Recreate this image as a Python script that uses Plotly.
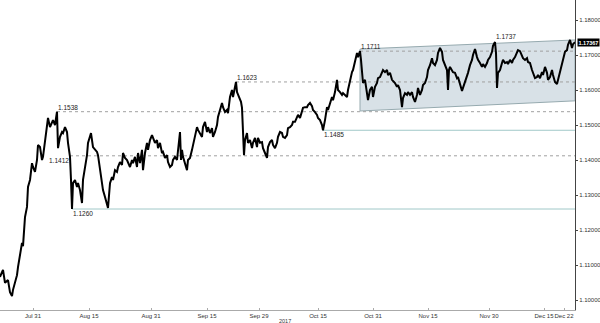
import plotly.graph_objects as go

# ---- data (x = trading-bar position, y = EUR/USD price) ----
bar_index = [0,3,5,8,10,12,13,15,17,18,20,22,23,25,27,28,30,32,33,35,37,38,40,42,43,45,47,48,50,52,53,55,57,58,59,60,62,63,65,67,68,70,71,72,73,75,77,78,80,82,83,85,87,88,90,91,93,95,97,98,
             100,102,103,105,107,108,110,112,113,115,117,118,120,122,123,125,127,128,130,132,133,135,137,138,140,142,143,145,147,148,150,152,153,155,157,158,160,162,163,165,167,168,170,172,173,175,177,178,180,181,182,183,185,187,188,190,192,193,195,197,198,
             200,202,203,205,207,208,210,212,213,215,217,218,220,222,223,225,227,228,230,232,233,235,236,237,239,241,242,243,244,245,247,248,250,252,253,255,257,258,260,262,263,265,267,268,270,272,273,275,277,278,280,282,283,285,287,288,290,292,293,295,297,298,
             300,302,303,305,307,308,310,312,313,315,317,318,320,322,323,325,327,328,330,332,333,335,337,338,340,342,343,345,347,348,350,352,353,355,357,358,360,361,362,363,365,367,368,370,372,373,375,377,378,380,382,383,385,387,388,390,392,395,397,398,
             400,402,403,405,407,408,410,412,413,415,417,418,420,422,423,425,427,428,430,432,433,435,437,438,440,442,443,445,447,448,449,450,452,453,455,457,458,460,462,463,465,467,468,470,472,473,475,477,478,480,482,483,485,487,488,490,492,493,495,496,497,498,
             500,502,503,505,507,508,510,512,513,515,517,518,520,522,523,525,527,528,530,532,533,535,537,538,540,542,543,545,547,548,550,552,553,555,557,558,560,562,563,565,567,568,570,571,572,573,575]
close_price = [1.1066,1.1086,1.1049,1.1057,1.1022,1.1011,1.1029,1.1049,1.1071,1.1094,1.1123,1.1163,1.1154,1.1237,1.1266,1.1323,1.1343,1.1391,1.1380,1.1366,1.1400,1.1443,1.1437,1.1400,1.1409,1.1457,1.1500,1.1520,1.1494,1.1506,1.1514,1.1500,1.1538,1.1434,1.1457,1.1466,1.1480,1.1477,1.1494,1.1480,1.1449,1.1409,1.1343,1.1260,1.1334,1.1343,1.1323,1.1334,1.1314,1.1277,1.1343,1.1380,1.1414,1.1449,1.1471,1.1477,1.1437,1.1429,1.1423,1.1414,
               1.1371,1.1334,1.1314,1.1294,1.1277,1.1263,1.1334,1.1351,1.1343,1.1371,1.1366,1.1380,1.1394,1.1386,1.1420,1.1406,1.1400,1.1394,1.1380,1.1400,1.1391,1.1409,1.1380,1.1420,1.1391,1.1429,1.1371,1.1420,1.1449,1.1429,1.1457,1.1471,1.1463,1.1449,1.1457,1.1434,1.1449,1.1420,1.1423,1.1406,1.1414,1.1394,1.1380,1.1386,1.1400,1.1409,1.1400,1.1429,1.1480,1.1400,1.1429,1.1409,1.1391,1.1371,1.1400,1.1406,1.1429,1.1443,1.1466,1.1494,1.1486,
               1.1477,1.1466,1.1494,1.1509,1.1480,1.1494,1.1477,1.1491,1.1466,1.1480,1.1500,1.1523,1.1543,1.1563,1.1551,1.1537,1.1543,1.1534,1.1580,1.1600,1.1580,1.1614,1.1623,1.1594,1.1580,1.1566,1.1549,1.1457,1.1414,1.1457,1.1477,1.1449,1.1457,1.1434,1.1449,1.1463,1.1437,1.1463,1.1449,1.1451,1.1434,1.1420,1.1406,1.1437,1.1451,1.1457,1.1443,1.1434,1.1449,1.1466,1.1480,1.1477,1.1466,1.1463,1.1471,1.1491,1.1494,1.1500,1.1509,1.1509,1.1520,1.1529,
               1.1520,1.1543,1.1549,1.1551,1.1551,1.1557,1.1563,1.1554,1.1543,1.1537,1.1529,1.1520,1.1514,1.1500,1.1485,1.1514,1.1551,1.1543,1.1563,1.1580,1.1571,1.1594,1.1629,1.1600,1.1594,1.1586,1.1591,1.1586,1.1580,1.1600,1.1629,1.1651,1.1657,1.1686,1.1706,1.1694,1.1711,1.1686,1.1637,1.1620,1.1629,1.1580,1.1571,1.1600,1.1609,1.1580,1.1609,1.1620,1.1634,1.1637,1.1651,1.1657,1.1651,1.1657,1.1643,1.1649,1.1629,1.1620,1.1609,1.1614,
               1.1600,1.1551,1.1577,1.1591,1.1586,1.1594,1.1586,1.1594,1.1580,1.1566,1.1586,1.1606,1.1586,1.1600,1.1614,1.1620,1.1637,1.1657,1.1671,1.1691,1.1677,1.1671,1.1686,1.1706,1.1720,1.1709,1.1686,1.1671,1.1657,1.1600,1.1657,1.1666,1.1657,1.1651,1.1649,1.1634,1.1637,1.1614,1.1597,1.1606,1.1623,1.1637,1.1649,1.1671,1.1686,1.1700,1.1717,1.1694,1.1686,1.1677,1.1666,1.1674,1.1666,1.1677,1.1686,1.1694,1.1709,1.1726,1.1737,1.1706,1.1606,1.1649,
               1.1657,1.1677,1.1686,1.1677,1.1680,1.1674,1.1686,1.1677,1.1686,1.1694,1.1706,1.1714,1.1711,1.1700,1.1691,1.1686,1.1691,1.1680,1.1677,1.1657,1.1649,1.1634,1.1637,1.1643,1.1634,1.1651,1.1643,1.1666,1.1649,1.1629,1.1637,1.1657,1.1643,1.1623,1.1617,1.1629,1.1657,1.1677,1.1694,1.1709,1.1714,1.1729,1.1743,1.1734,1.1720,1.1731,1.17367]

# date tick labels (positions in bar units)
tick_labels = ["Jul 31", "Aug 15", "Aug 31", "Sep 15", "Sep 29", "Oct 15", "Oct 31", "Nov 15", "Nov 30", "Dec 15", "Dec 22"]
tick_bars = [33, 89, 151, 207, 259, 318, 373, 428, 489, 544, 564]

price_ticks = [1.10, 1.11, 1.12, 1.13, 1.14, 1.15, 1.16, 1.17, 1.18]

# key levels
level_labels = ["1.1538", "1.1412", "1.1260", "1.1623", "1.1485", "1.1711", "1.1737"]
level_values = [1.1538, 1.1412, 1.1260, 1.1623, 1.1485, 1.1711, 1.1737]
level_start = [57, 70, 72, 236, 323, 360, 495]
level_kind = ["dash", "dash", "solid", "dash", "solid", "dash", "none"]

# channel (bar, price) corners
channel_bars = [360, 575, 575, 360]
channel_prices = [1.1717, 1.1743, 1.1569, 1.1540]

last_price = 1.17367
X_END = 575

fig = go.Figure()

# channel shading
fig.add_trace(go.Scatter(
    x=channel_bars + [channel_bars[0]], y=channel_prices + [channel_prices[0]],
    mode="lines", fill="toself", fillcolor="rgb(216,225,231)",
    line=dict(color="rgb(150,170,175)", width=1), hoverinfo="skip", showlegend=False))

# level lines
for lab, val, st, kind in zip(level_labels, level_values, level_start, level_kind):
    if kind == "none":
        continue
    if kind == "dash":
        fig.add_trace(go.Scatter(x=[st, X_END], y=[val, val], mode="lines",
                                 line=dict(color="rgb(160,160,160)", width=1, dash="3px,3px"),
                                 hoverinfo="skip", showlegend=False))
    else:
        fig.add_trace(go.Scatter(x=[st, X_END], y=[val, val], mode="lines",
                                 line=dict(color="rgb(160,200,200)", width=1),
                                 hoverinfo="skip", showlegend=False))

# price line
fig.add_trace(go.Scatter(x=bar_index, y=close_price, mode="lines",
                         line=dict(color="black", width=2), showlegend=False))

ann_font = dict(family="Liberation Sans", size=6.5, color="#222")
placements = {
    "1.1538": ("left", "bottom", 0),
    "1.1412": ("right", "top", 0),
    "1.1260": ("left", "top", 0),
    "1.1623": ("left", "bottom", 0),
    "1.1485": ("left", "top", 0),
    "1.1711": ("left", "bottom", 0),
    "1.1737": ("left", "bottom", 1),
}
for lab, val, st in zip(level_labels, level_values, level_start):
    xa, ya, ys = placements[lab]
    fig.add_annotation(x=st, y=val, text=lab, showarrow=False, font=ann_font,
                       xanchor=xa, yanchor=ya, yshift=ys, borderpad=0)

# last price tag
fig.add_annotation(xref="paper", x=1, y=last_price, text="<b>%.5f</b>" % last_price,
                   showarrow=False, xanchor="left", yanchor="middle", xshift=2,
                   bgcolor="black", font=dict(family="Liberation Sans", size=5.5, color="white"),
                   borderpad=0.5)

# year label
fig.add_annotation(xref="x", yref="paper", x=285, y=-0.02, text="2017", showarrow=False,
                   yanchor="top", font=dict(family="Liberation Sans", size=5.5, color="#333"))

fig.update_layout(
    width=600, height=323,
    margin=dict(l=0, r=25, t=0, b=13),
    paper_bgcolor="white", plot_bgcolor="white",
    showlegend=False,
    xaxis=dict(range=[0, X_END], tickvals=tick_bars, ticktext=tick_labels,
               tickangle=0, automargin=False,
               showgrid=False, zeroline=False, showline=True, linecolor="rgb(170,170,170)",
               linewidth=1, ticks="inside", ticklen=2, tickcolor="rgb(170,170,170)",
               tickfont=dict(family="Liberation Sans", size=6, color="#333")),
    yaxis=dict(side="right", range=[1.18 - 290 / 3500, 1.18 + 20 / 3500],
               tickvals=price_ticks, ticktext=["%.5f" % v for v in price_ticks],
               automargin=False,
               showgrid=False, zeroline=False, showline=True, linecolor="#444",
               linewidth=1, ticks="outside", ticklen=2, tickcolor="#444",
               tickfont=dict(family="Liberation Sans", size=6, color="#333")),
)

fig.write_html("out.html")
